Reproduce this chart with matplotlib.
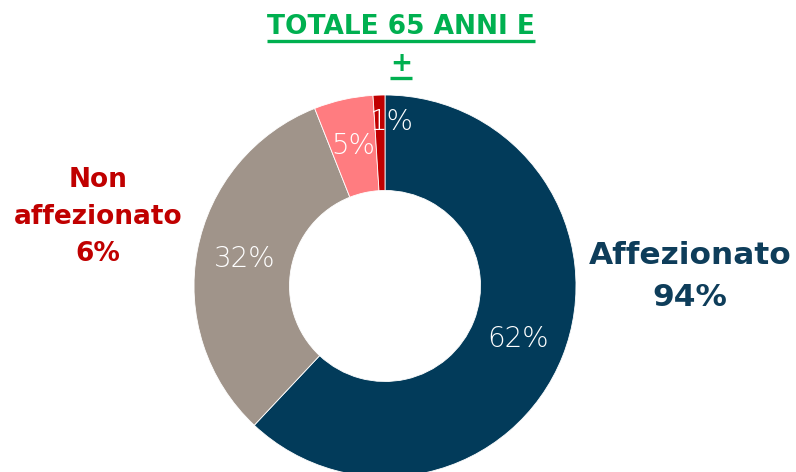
import numpy as np
import matplotlib.pyplot as plt

# values (clockwise from 12 o'clock)
shares = [62, 32, 5, 1]
colors = ["#023b5a", "#a0948a", "#ff7c80", "#c00000"]
title_lines = ["TOTALE 65 ANNI E", "+"]
label_right = ["Affezionato", "94%"]
label_left = ["Non", "affezionato", "6%"]

W, H = 796, 472
fig = plt.figure(figsize=(W / 100, H / 100), dpi=100)
ax = fig.add_axes([0, 0, 1, 1])

cx, cy, R = 385, 186, 191
wedges, texts, autotexts = ax.pie(
    shares, colors=colors, startangle=90, counterclock=False,
    center=(cx, cy), radius=R, autopct="%d%%", pctdistance=0.75,
    wedgeprops=dict(width=R * 0.5, edgecolor="white", linewidth=0.6),
    textprops=dict(color="white", fontsize=20, fontweight="light"),
    frame=True)
ax.set_xlim(0, W)
ax.set_ylim(0, H)
ax.set_aspect("equal")
ax.axis("off")

# the 1% label sits a bit further out and to the right of its tiny slice
w = wedges[-1]
ang = np.deg2rad((w.theta1 + w.theta2) / 2)
autotexts[-1].set_position((cx + 0.86 * R * np.cos(ang) + 12, cy + 0.86 * R * np.sin(ang)))

green = "#00b050"
t1 = ax.text(401, 445, title_lines[0], ha="center", va="center", color=green,
             fontsize=19, fontweight="bold")
t2 = ax.text(401, 408, title_lines[1], ha="center", va="center", color=green,
             fontsize=19, fontweight="bold")

ax.text(690, 217, label_right[0], ha="center", va="center", color="#0e3d5a",
        fontsize=22.5, fontweight="bold")
ax.text(690, 175, label_right[1], ha="center", va="center", color="#0e3d5a",
        fontsize=22.5, fontweight="bold")

for i, s in enumerate(label_left):
    ax.text(98, 292 - 37 * i, s, ha="center", va="center", color="#c00000",
            fontsize=19, fontweight="bold")

# underline the title lines
fig.canvas.draw()
r = fig.canvas.get_renderer()
inv = ax.transData.inverted()
for t in (t1, t2):
    bb = t.get_window_extent(r)
    (x0, y0), (x1, y1) = inv.transform([(bb.x0, bb.y0), (bb.x1, bb.y1)])
    ax.plot([x0, x1], [y0 - 1, y0 - 1], color=green, lw=2.4, solid_capstyle="butt")

fig.savefig("out.png", dpi=100)
